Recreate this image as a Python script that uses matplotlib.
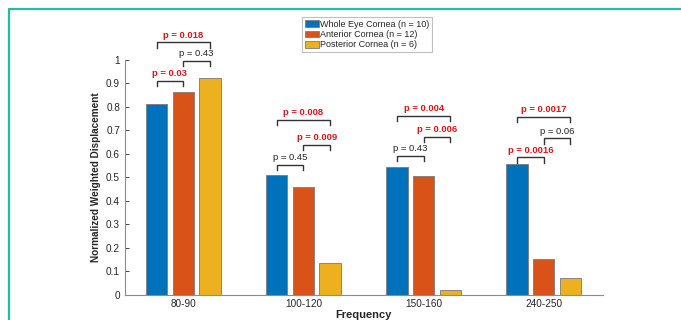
import numpy as np
import matplotlib
matplotlib.use("Agg")
import matplotlib.pyplot as plt
from matplotlib.lines import Line2D

plt.rcParams["font.family"] = ["Liberation Sans", "DejaVu Sans"]

categories = ["80-90", "100-120", "150-160", "240-250"]
series_names = ["Whole Eye Cornea (n = 10)", "Anterior Cornea (n = 12)", "Posterior Cornea (n = 6)"]
whole_eye = [0.812, 0.509, 0.545, 0.557]
anterior = [0.864, 0.460, 0.507, 0.151]
posterior = [0.925, 0.134, 0.021, 0.071]

# comparisons: (group index, bar a, bar b, bracket height, p-value label, significant)
comparisons = [
    (0, 0, 1, 0.910, "p = 0.03", True),
    (0, 1, 2, 0.996, "p = 0.43", False),
    (0, 0, 2, 1.075, "p = 0.018", True),
    (1, 0, 1, 0.553, "p = 0.45", False),
    (1, 1, 2, 0.638, "p = 0.009", True),
    (1, 0, 2, 0.744, "p = 0.008", True),
    (2, 0, 1, 0.592, "p = 0.43", False),
    (2, 1, 2, 0.673, "p = 0.006", True),
    (2, 0, 2, 0.763, "p = 0.004", True),
    (3, 0, 1, 0.585, "p = 0.0016", True),
    (3, 1, 2, 0.666, "p = 0.06", False),
    (3, 0, 2, 0.756, "p = 0.0017", True),
]

colors = ["#0072BD", "#D95319", "#EDB120"]
text_gray = "#262626"

fig = plt.figure(figsize=(6.81, 3.20), dpi=100)
ax = fig.add_axes([0.1835, 0.079, 0.7015, 0.7335])

x = np.arange(1, len(categories) + 1)
offset = 0.222
width = 0.178
all_series = [whole_eye, anterior, posterior]
handles = []
for i, (vals, c, name) in enumerate(zip(all_series, colors, series_names)):
    b = ax.bar(x + (i - 1) * offset, vals, width, color=c, edgecolor="#7a7a7a",
               linewidth=0.6, label=name, zorder=2)
    handles.append(b)

ax.set_xlim(0.515, 4.49)
ax.set_ylim(0, 1)
ax.set_xticks(x)
ax.set_xticklabels(categories)
ax.set_yticks(np.arange(0, 1.01, 0.1))
ax.set_yticklabels(["0", "0.1", "0.2", "0.3", "0.4", "0.5", "0.6", "0.7", "0.8", "0.9", "1"])
ax.tick_params(direction="in", length=3, width=0.6, labelsize=7.2, colors=text_gray,
               labelcolor=text_gray)
ax.tick_params(axis="x", pad=3)
for s in ["top", "right"]:
    ax.spines[s].set_visible(False)
for s in ["left", "bottom"]:
    ax.spines[s].set_color("#8c8c8c")
    ax.spines[s].set_linewidth(0.8)

ax.set_xlabel("Frequency", fontsize=8, fontweight="bold", color=text_gray, labelpad=1)
ax.set_ylabel("Normalized Weighted Displacement", fontsize=7.2, fontweight="bold",
              color=text_gray)
ax.yaxis.set_label_coords(-0.05, 0.5)

# significance brackets
drop = 0.022
for g, a, b, h, label, sig in comparisons:
    xa = x[g] + (a - 1) * offset
    xb = x[g] + (b - 1) * offset
    ax.plot([xa, xa, xb, xb], [h - drop, h, h, h - drop], color="#333333", lw=1.0,
            clip_on=False, zorder=3, solid_joinstyle="miter")
    ax.text((xa + xb) / 2, h + 0.012, label, ha="center", va="bottom",
            fontsize=6.8, color="#d7191c" if sig else "#222222",
            fontweight="bold" if sig else "normal", clip_on=False)

leg = fig.legend(handles=handles, labels=series_names, loc="upper left",
                 bbox_to_anchor=(302 / 681, 1 - 17 / 320), fontsize=6.5,
                 frameon=True, fancybox=False, edgecolor="#b0b0b0",
                 handlelength=1.55, handleheight=0.75, handletextpad=0.1,
                 borderpad=0.3, labelspacing=0.15, borderaxespad=0)
leg.get_frame().set_linewidth(0.8)
for t in leg.get_texts():
    t.set_color(text_gray)

# teal border frame
teal = "#1fbfa0"
fig.add_artist(Line2D([9 / 681, 9 / 681, 1.0], [0.0, 1 - 8.5 / 320, 1 - 8.5 / 320],
                      transform=fig.transFigure, color=teal, lw=1.6))

fig.savefig("out.png", dpi=100)
